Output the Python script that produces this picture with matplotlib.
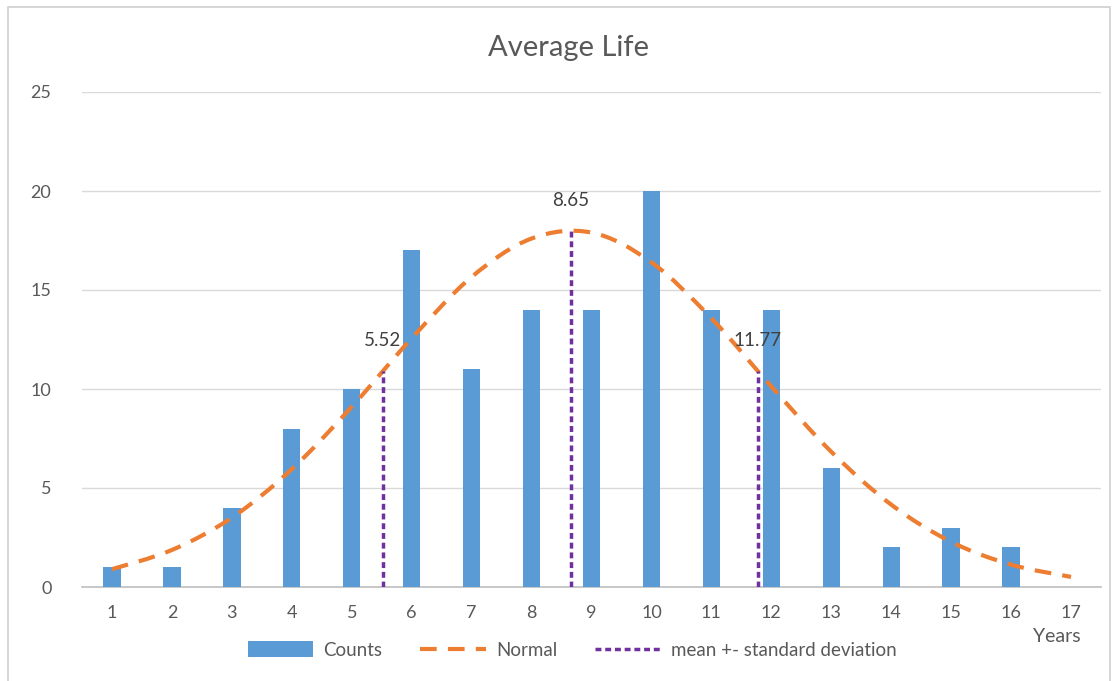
import matplotlib
matplotlib.use("Agg")
import matplotlib.pyplot as plt
from matplotlib.path import Path
from matplotlib.patches import PathPatch, Rectangle
from matplotlib.lines import Line2D
from matplotlib.patches import Patch
import numpy as np

plt.rcParams['font.family'] = ['Lato', 'DejaVu Sans']

years = list(range(1, 18))
counts = [1, 1, 4, 8, 10, 17, 11, 14, 14, 20, 14, 14, 6, 2, 3, 2, 0]
normal = [0.9, 1.87, 3.5, 5.95, 9.1, 12.56, 15.66, 17.6, 17.9, 16.4,
          13.57, 10.13, 6.83, 4.16, 2.28, 1.13, 0.51]
sd_x = [5.52, 8.65, 11.77]
sd_y = [10.9, 18.0, 10.9]
sd_labels = ["5.52", "8.65", "11.77"]
yticks = [0, 5, 10, 15, 20, 25]

BLUE = '#5B9BD5'
ORANGE = '#ED7D31'
PURPLE = '#7030A0'
TXT = '#595959'

fig = plt.figure(figsize=(11.17, 6.81), dpi=100)
fig.patches.append(Rectangle((8/1117, -0.01), (1110-8)/1117, 1 - 7/681 + 0.01,
                             transform=fig.transFigure, fill=False,
                             edgecolor='#D0CECE', linewidth=1.2))
ax = fig.add_axes([82/1117, 1-587/681, (1101-82)/1117, (587-92)/681])

ax.bar(years, counts, width=0.29, color=BLUE, zorder=2)

# smoothed line (Catmull-Rom rendered as cubic Bezier)
xs = np.array(years, float)
ys = np.array(normal, float)
verts = [(xs[0], ys[0])]
codes = [Path.MOVETO]
n = len(xs)
for i in range(n - 1):
    p0 = np.array([xs[max(i-1, 0)], ys[max(i-1, 0)]])
    p1 = np.array([xs[i], ys[i]])
    p2 = np.array([xs[i+1], ys[i+1]])
    p3 = np.array([xs[min(i+2, n-1)], ys[min(i+2, n-1)]])
    c1 = p1 + (p2 - p0) / 6
    c2 = p2 - (p3 - p1) / 6
    verts += [tuple(c1), tuple(c2), tuple(p2)]
    codes += [Path.CURVE4] * 3
ax.add_patch(PathPatch(Path(verts, codes), fill=False, edgecolor=ORANGE,
                       linewidth=3, linestyle=(0, (4, 2.7)), zorder=3,
                       capstyle='butt'))

for x, y, lab in zip(sd_x, sd_y, sd_labels):
    ax.plot([x, x], [0, y], color=PURPLE, linewidth=2.5,
            linestyle=(0, (1.7, 1.1)), zorder=4)
    ax.annotate(lab, (x, y), xytext=(0, 22), textcoords='offset points',
                ha='center', va='center', fontsize=13.5, color='#404040',
                zorder=5)

ax.set_xlim(0.5, 17.5)
ax.set_ylim(0, 25)
ax.set_yticks(yticks)
ax.set_xticks(years)
ax.set_xticklabels([str(v) for v in years])
ax.tick_params(axis='both', length=0, labelsize=13, colors=TXT)
ax.tick_params(axis='x', pad=13)
ax.tick_params(axis='y', pad=22)
ax.grid(axis='y', color='#D9D9D9', linewidth=1, zorder=0)
ax.set_axisbelow(True)
for s in ['top', 'right', 'left']:
    ax.spines[s].set_visible(False)
ax.spines['bottom'].set_color('#BFBFBF')
ax.spines['bottom'].set_linewidth(1.2)
ax.spines['bottom'].set_zorder(1)

fig.text(568/1117, 1 - 48/681, "Average Life", ha='center', va='center',
         fontsize=21, color=TXT)
fig.text(1081/1117, 1 - 637/681, "Years", ha='right', va='center',
         fontsize=14, color=TXT)

handles = [Patch(facecolor=BLUE, edgecolor='none'),
           Line2D([], [], color=ORANGE, linewidth=3, linestyle=(0, (4, 2.7))),
           Line2D([], [], color=PURPLE, linewidth=2.5, linestyle=(0, (1.7, 1.1)))]
labels = ["Counts", "Normal", "mean +- standard deviation"]
fig.legend(handles, labels, loc='center', bbox_to_anchor=(572/1117, 1 - 650/681),
           ncol=3, frameon=False, fontsize=13.5, labelcolor=TXT,
           handlelength=3.5, handleheight=0.9, columnspacing=2.0,
           handletextpad=0.55)

fig.savefig("out.png", dpi=100)
